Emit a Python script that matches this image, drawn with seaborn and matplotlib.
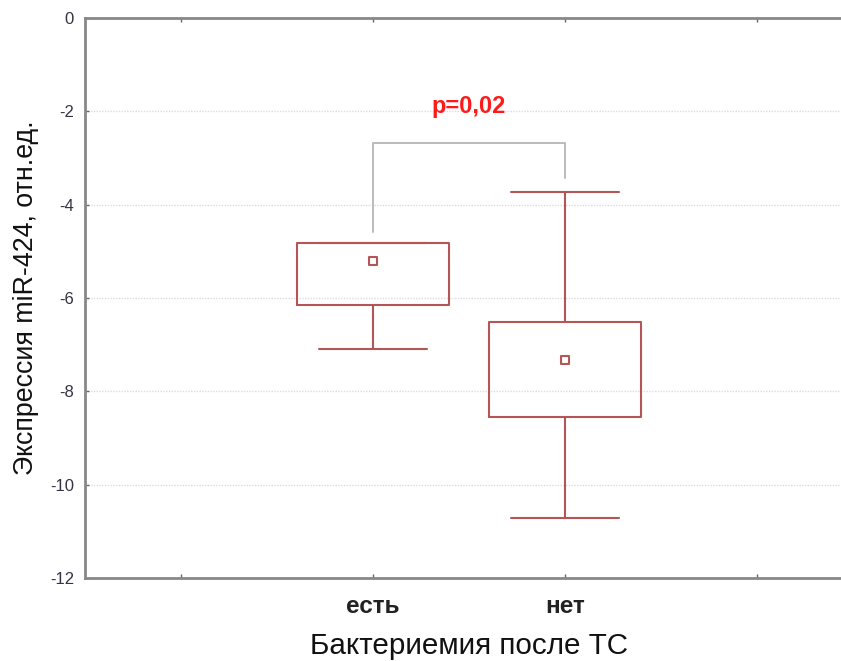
import matplotlib
matplotlib.use("Agg")
import matplotlib.pyplot as plt
import seaborn as sns
import numpy as np

# ---- data ----
categories = ["есть", "нет"]
whisker_low = [-7.10, -10.72]
q1 = [-6.15, -8.55]
q3 = [-4.82, -6.52]
whisker_high = [-4.82, -3.72]
center = [-5.20, -7.32]
x_ticks = [1, 2, 3, 4]
y_ticks = [-12, -10, -8, -6, -4, -2, 0]
p_text = "p=0,02"
bracket_y = [-4.58, -2.68, -2.68, -3.43]
p_y = -1.9

sns.set_theme(style="white")
plt.rcParams['font.family'] = ['Liberation Sans', 'DejaVu Sans']

fig = plt.figure(figsize=(8.41, 6.61), dpi=100)
ax = fig.add_axes([85/841, 83/661, 768/841, 560/661])

box_color = "#b35656"
positions = [categories.index(c) + 2 for c in categories]
stats = []
for i, c in enumerate(categories):
    stats.append(dict(med=center[i], q1=q1[i], q3=q3[i],
                      whislo=whisker_low[i], whishi=whisker_high[i],
                      label=c))
ax.bxp(stats, positions=positions, widths=0.79, capwidths=0.56,
       showfliers=False, manage_ticks=False,
       boxprops=dict(color=box_color, linewidth=1.5),
       whiskerprops=dict(color=box_color, linewidth=1.5),
       capprops=dict(color=box_color, linewidth=1.5),
       medianprops=dict(linewidth=0))
sns.scatterplot(x=positions, y=center, marker="s", s=40, facecolor="white",
                edgecolor=box_color, linewidth=1.5, ax=ax, zorder=5)

# significance bracket
bx = [positions[0], positions[0], positions[1], positions[1]]
ax.plot(bx, bracket_y, color="#bbbbbb", linewidth=1.4)
ax.text((positions[0] + positions[1]) / 2, p_y, p_text, color="#ff1a1a",
        fontsize=17, fontweight="bold", ha="center", va="center")

ax.set_xlim(0.5, 4.5)
ax.set_ylim(-12, 0)
ax.set_xticks(x_ticks)
ax.set_xticklabels(["", categories[0], categories[1], ""],
                   fontsize=17.5, fontweight="bold", color="#222222")
ax.set_yticks(y_ticks)
ax.set_yticklabels([str(v) for v in y_ticks], fontsize=12, color="#333344")
ax.tick_params(axis="both", direction="in", length=3, width=1, color="#666666",
               top=True, left=True, bottom=True, right=False)
ax.tick_params(axis="x", pad=12)
ax.tick_params(axis="y", pad=8)
ax.yaxis.grid(True, linestyle=(0, (1, 1)), color="#dcdcdc", linewidth=1)
ax.xaxis.grid(False)
for s in ["left", "bottom", "top"]:
    ax.spines[s].set_color("#888888")
    ax.spines[s].set_linewidth(2)
ax.spines["right"].set_visible(False)

ax.set_xlabel("Бактериемия после ТС", fontsize=21.3, color="#111111", labelpad=10)
ax.set_ylabel("Экспрессия miR-424, отн.ед.", fontsize=19.3, color="#111111", labelpad=8)

fig.savefig("out.png", dpi=100)
